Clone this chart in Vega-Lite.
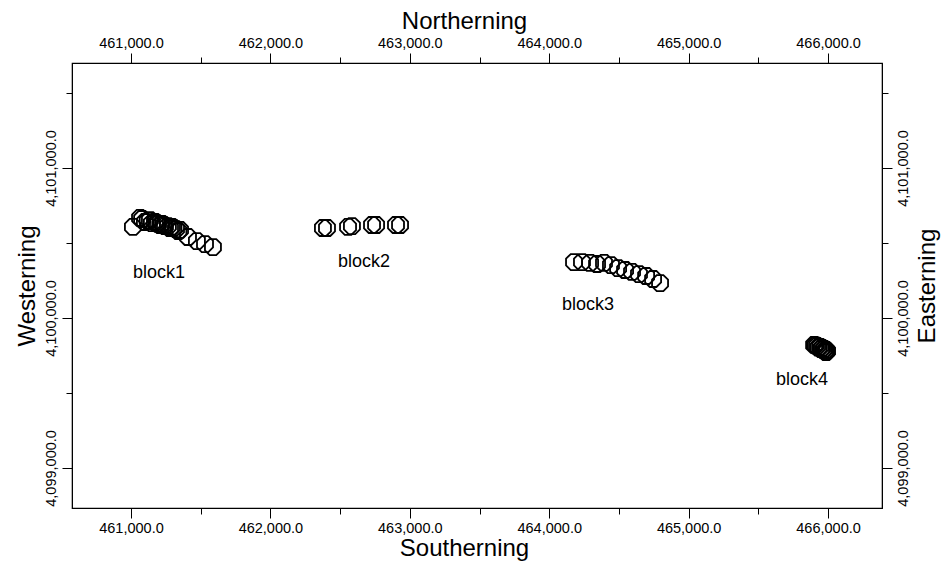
{
  "$schema": "https://vega.github.io/schema/vega-lite/v6.json",
  "width": 810,
  "height": 445,
  "autosize": {"type": "none"},
  "padding": {"left": 72, "top": 63, "right": 61, "bottom": 59},
  "background": "white",
  "config": {
    "font": "Liberation Sans",
    "view": {"stroke": "black", "strokeWidth": 1.2},
    "axis": {
      "domainColor": "black",
      "tickColor": "black",
      "labelColor": "black",
      "titleColor": "black",
      "labelFont": "Liberation Sans",
      "titleFont": "Liberation Sans",
      "labelFontSize": 14.5,
      "titleFontSize": 24,
      "titleFontWeight": "normal",
      "grid": false
    }
  },
  "datasets": {
    "pts": [
      {"block": "block1", "e": 461014, "n": 4100607},
      {"block": "block1", "e": 461065, "n": 4100667},
      {"block": "block1", "e": 461080, "n": 4100660},
      {"block": "block1", "e": 461100, "n": 4100640},
      {"block": "block1", "e": 461120, "n": 4100647},
      {"block": "block1", "e": 461136, "n": 4100653},
      {"block": "block1", "e": 461150, "n": 4100633},
      {"block": "block1", "e": 461172, "n": 4100640},
      {"block": "block1", "e": 461185, "n": 4100633},
      {"block": "block1", "e": 461194, "n": 4100627},
      {"block": "block1", "e": 461210, "n": 4100620},
      {"block": "block1", "e": 461222, "n": 4100627},
      {"block": "block1", "e": 461235, "n": 4100620},
      {"block": "block1", "e": 461244, "n": 4100613},
      {"block": "block1", "e": 461265, "n": 4100613},
      {"block": "block1", "e": 461280, "n": 4100600},
      {"block": "block1", "e": 461294, "n": 4100607},
      {"block": "block1", "e": 461305, "n": 4100600},
      {"block": "block1", "e": 461323, "n": 4100593},
      {"block": "block1", "e": 461340, "n": 4100580},
      {"block": "block1", "e": 461352, "n": 4100587},
      {"block": "block1", "e": 461409, "n": 4100540},
      {"block": "block1", "e": 461473, "n": 4100513},
      {"block": "block1", "e": 461531, "n": 4100493},
      {"block": "block1", "e": 461588, "n": 4100473},
      {"block": "block2", "e": 462377, "n": 4100600},
      {"block": "block2", "e": 462406, "n": 4100600},
      {"block": "block2", "e": 462557, "n": 4100607},
      {"block": "block2", "e": 462585, "n": 4100613},
      {"block": "block2", "e": 462729, "n": 4100620},
      {"block": "block2", "e": 462758, "n": 4100620},
      {"block": "block2", "e": 462901, "n": 4100620},
      {"block": "block2", "e": 462930, "n": 4100620},
      {"block": "block3", "e": 464178, "n": 4100373},
      {"block": "block3", "e": 464235, "n": 4100373},
      {"block": "block3", "e": 464293, "n": 4100367},
      {"block": "block3", "e": 464343, "n": 4100360},
      {"block": "block3", "e": 464393, "n": 4100367},
      {"block": "block3", "e": 464443, "n": 4100353},
      {"block": "block3", "e": 464494, "n": 4100333},
      {"block": "block3", "e": 464544, "n": 4100320},
      {"block": "block3", "e": 464594, "n": 4100307},
      {"block": "block3", "e": 464644, "n": 4100293},
      {"block": "block3", "e": 464695, "n": 4100280},
      {"block": "block3", "e": 464745, "n": 4100260},
      {"block": "block3", "e": 464795, "n": 4100233},
      {"block": "block4", "e": 465900, "n": 4099820},
      {"block": "block4", "e": 465910, "n": 4099817},
      {"block": "block4", "e": 465921, "n": 4099813},
      {"block": "block4", "e": 465930, "n": 4099803},
      {"block": "block4", "e": 465943, "n": 4099807},
      {"block": "block4", "e": 465950, "n": 4099793},
      {"block": "block4", "e": 465957, "n": 4099800},
      {"block": "block4", "e": 465965, "n": 4099787},
      {"block": "block4", "e": 465972, "n": 4099793},
      {"block": "block4", "e": 465978, "n": 4099780},
      {"block": "block4", "e": 465986, "n": 4099787},
      {"block": "block4", "e": 465993, "n": 4099780},
      {"block": "block4", "e": 465986, "n": 4099773}
    ],
    "labels": [
      {"block": "block1", "e": 461201, "n": 4100300},
      {"block": "block2", "e": 462672, "n": 4100373},
      {"block": "block3", "e": 464279, "n": 4100087},
      {"block": "block4", "e": 465814, "n": 4099587}
    ]
  },
  "layer": [
    {
      "data": {"name": "pts"},
      "mark": {
        "type": "point",
        "shape": "M-0.414,-1L0.414,-1L1,-0.414L1,0.414L0.414,1L-0.414,1L-1,0.414L-1,-0.414Z",
        "size": 256,
        "filled": false,
        "stroke": "black",
        "strokeWidth": 1.8,
        "opacity": 1
      },
      "encoding": {
        "x": {
          "field": "e", "type": "quantitative",
          "scale": {"domain": [460577, 466387], "nice": false, "zero": false},
          "axis": {
            "orient": "bottom", "title": "Southerning", "titleX": 392,
            "values": [461000, 461500, 462000, 462500, 463000, 463500, 464000, 464500, 465000, 465500, 466000],
            "labelExpr": "datum.value % 1000 === 0 ? format(datum.value, ',.1f') : ''",
            "tickSize": {"condition": {"test": "datum.value % 1000 === 0", "value": 10}, "value": 6},
            "labelPadding": 3, "titlePadding": 2, "labelFlush": false
          }
        },
        "y": {
          "field": "n", "type": "quantitative",
          "scale": {"domain": [4098733, 4101700], "nice": false, "zero": false},
          "axis": {
            "orient": "left", "title": "Westerning",
            "values": [4099000, 4099500, 4100000, 4100500, 4101000, 4101500],
            "labelExpr": "datum.value % 1000 === 0 ? format(datum.value, ',.1f') : ''",
            "tickSize": {"condition": {"test": "datum.value % 1000 === 0", "value": 10}, "value": 6},
            "labelAngle": -90, "labelAlign": "center", "labelBaseline": "bottom",
            "labelPadding": 4, "titlePadding": 4, "labelFlush": false
          }
        }
      }
    },
    {
      "data": {"name": "labels"},
      "mark": {"type": "text", "fontSize": 18, "font": "Liberation Sans", "color": "black"},
      "encoding": {
        "x": {
          "field": "e", "type": "quantitative",
          "axis": {
            "orient": "top", "title": "Northerning", "titleX": 392,
            "values": [461000, 461500, 462000, 462500, 463000, 463500, 464000, 464500, 465000, 465500, 466000],
            "labelExpr": "datum.value % 1000 === 0 ? format(datum.value, ',.1f') : ''",
            "tickSize": {"condition": {"test": "datum.value % 1000 === 0", "value": 10}, "value": 6},
            "labelPadding": 3, "titlePadding": 2, "labelFlush": false
          }
        },
        "y": {
          "field": "n", "type": "quantitative",
          "axis": {
            "orient": "right", "title": "Easterning", "titleAngle": -90, "titleBaseline": "top",
            "values": [4099000, 4099500, 4100000, 4100500, 4101000, 4101500],
            "labelExpr": "datum.value % 1000 === 0 ? format(datum.value, ',.1f') : ''",
            "tickSize": {"condition": {"test": "datum.value % 1000 === 0", "value": 10}, "value": 6},
            "labelAngle": -90, "labelAlign": "center", "labelBaseline": "top",
            "labelPadding": 4, "titlePadding": 6, "labelFlush": false
          }
        },
        "text": {"field": "block"}
      }
    }
  ],
  "resolve": {"axis": {"x": "independent", "y": "independent"}}
}
